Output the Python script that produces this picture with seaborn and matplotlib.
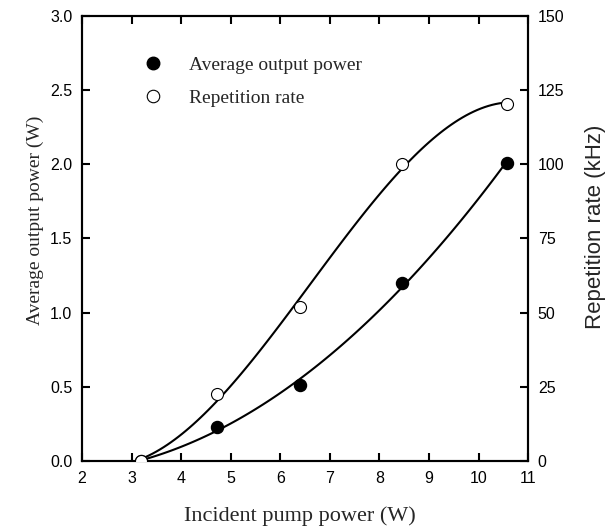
import matplotlib
matplotlib.use("Agg")
import matplotlib.pyplot as plt
import seaborn as sns
import pandas as pd
import numpy as np
from matplotlib.lines import Line2D

pump_power = [3.2, 4.72, 6.40, 8.45, 10.57]
avg_power = [0.0, 0.23, 0.51, 1.20, 2.01]
rep_rate = [0.0, 22.6, 52.0, 100.0, 120.5]
legend_labels = ["Average output power", "Repetition rate"]

df = pd.DataFrame({"pump": pump_power, "power": avg_power, "rep": rep_rate})

sns.set_theme(style="ticks")
plt.rcParams["font.family"] = ["Liberation Sans", "DejaVu Sans"]

fig = plt.figure(figsize=(6.07, 5.26), dpi=100)
ax = fig.add_axes([0.135, 0.1236, 0.735, 0.846])
ax2 = ax.twinx()

sns.regplot(data=df, x="pump", y="power", order=2, ci=None, ax=ax,
            scatter_kws=dict(s=75, color="black", edgecolor="black", alpha=1, zorder=3),
            line_kws=dict(color="black", lw=1.5))
sns.regplot(data=df, x="pump", y="rep", order=3, ci=None, ax=ax2,
            scatter_kws=dict(s=75, facecolor="white", edgecolor="black", linewidths=0.8, alpha=1, zorder=3),
            line_kws=dict(color="black", lw=1.5))

ax.set_xlim(2, 11)
ax.set_ylim(0, 3)
ax2.set_ylim(0, 150)
ax.set_xticks(range(2, 12))
yt = [0, 0.5, 1.0, 1.5, 2.0, 2.5, 3.0]
ax.set_yticks(yt)
ax.set_yticklabels([f"{v:.1f}" for v in yt])
ax2.set_yticks([0, 25, 50, 75, 100, 125, 150])

for a in (ax, ax2):
    for s in a.spines.values():
        s.set_visible(True)
        s.set_linewidth(1.5)
        s.set_color("black")
ax.tick_params(axis="both", direction="in", length=6, width=1.5, labelsize=11.5, colors="black", pad=7, top=True)
ax2.tick_params(axis="y", direction="in", length=6, width=1.5, labelsize=11.5, colors="black", pad=7)

serif = ["Liberation Serif", "DejaVu Serif"]
ax.set_xlabel("Incident pump power (W)", fontsize=16, family=serif, labelpad=15)
ax.set_ylabel("Average output power (W)", fontsize=14, family=serif, labelpad=4)
ax2.set_ylabel("Repetition rate (kHz)", fontsize=16, labelpad=15)
ax.xaxis.label.set_x(0.489)
ax.yaxis.label.set_y(0.5416)
ax2.yaxis.label.set_y(0.526)

handles = [Line2D([], [], marker="o", ls="none", color="black", markersize=9),
           Line2D([], [], marker="o", ls="none", markerfacecolor="white", markeredgecolor="black",
                  markeredgewidth=0.8, markersize=9)]
ax.legend(handles, legend_labels, loc="upper left",
          bbox_to_anchor=(0.137, 0.909), frameon=False, prop=dict(family=serif, size=14),
          handlelength=1.0, handletextpad=1.37, labelspacing=0.8, borderpad=0, borderaxespad=0)

fig.savefig("out.png", dpi=100)
